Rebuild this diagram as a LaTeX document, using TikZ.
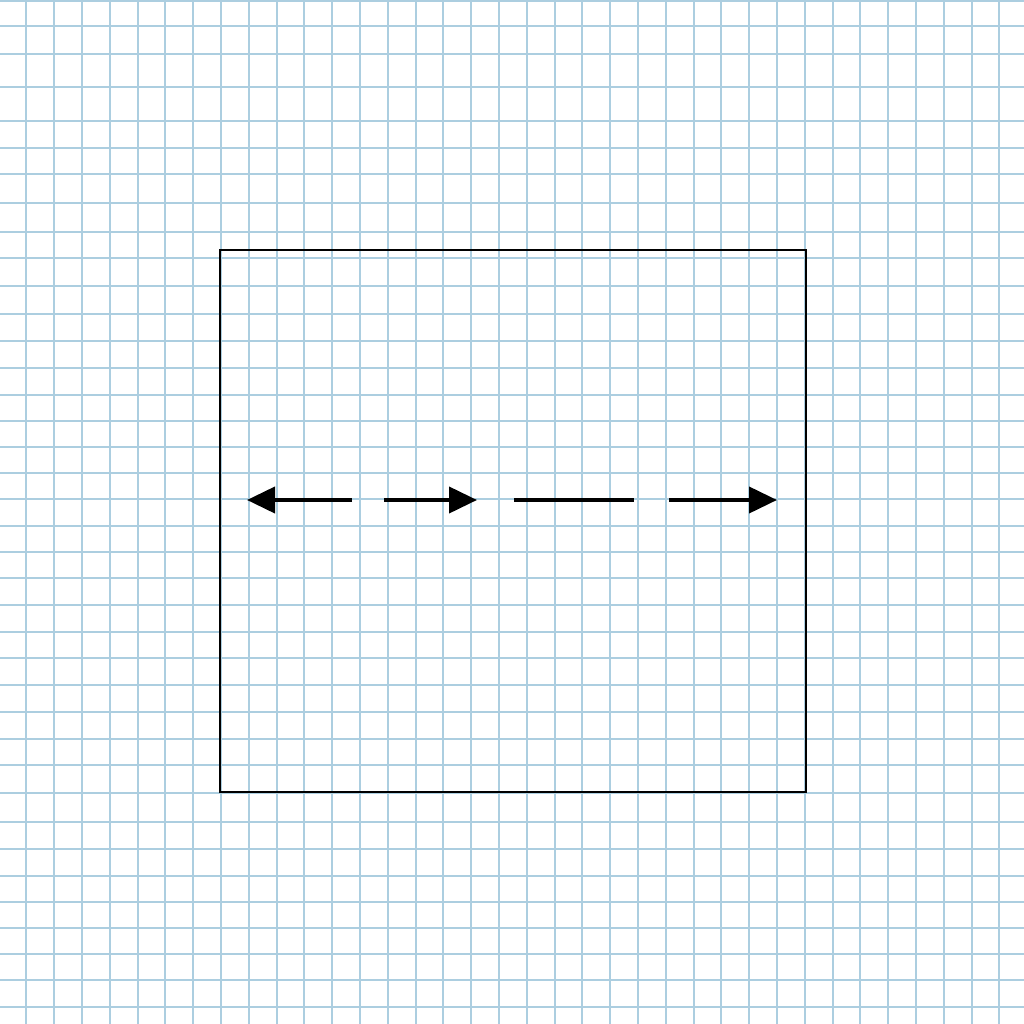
\documentclass[tikz,border=0pt]{standalone}
\usetikzlibrary{arrows.meta}
\definecolor{gridblue}{RGB}{172,206,224}
\tikzset{
  gridline/.style={draw=gridblue, line width=2pt},
  frame/.style={draw=black, line width=2pt},
  seg/.style={draw=black, line width=4pt},
  headtip/.style={-{Triangle[length=28pt,width=26pt]}}
}
\begin{document}
\begin{tikzpicture}[x=1pt,y=-1pt]
\useasboundingbox (0,0) rectangle (1024,1024);
\fill[white] (0,0) rectangle (1024,1024);
% vertical grid lines
\foreach \k in {0,...,36} {
  \draw[gridline] ({round(26.3+27.8*\k)},0) -- ({round(26.3+27.8*\k)},1024);
}
% horizontal grid lines
\foreach \y in {1,26,54,87,121,148,174,203,232,258,286,314,341,368,395,421,447,473,499,526,552,578,605,632,658,685,712,739,765,793,822,849,876,902,928,954,980,1007} {
  \draw[gridline] (0,\y) -- (1024,\y);
}
% frame
\node[frame, minimum width=586pt, minimum height=542pt, inner sep=0pt, anchor=north west] (box) at (219,249) {};
% segments
\coordinate (a1) at (352,500);
\coordinate (a2) at (247,500);
\coordinate (b1) at (384,500);
\coordinate (b2) at (477,500);
\coordinate (c1) at (514,500);
\coordinate (c2) at (634,500);
\coordinate (d1) at (669,500);
\coordinate (d2) at (777,500);
\draw[seg, headtip] (a1) -- (a2);
\draw[seg, headtip] (b1) -- (b2);
\draw[seg] (c1) -- (c2);
\draw[seg, headtip] (d1) -- (d2);
\end{tikzpicture}
\end{document}
